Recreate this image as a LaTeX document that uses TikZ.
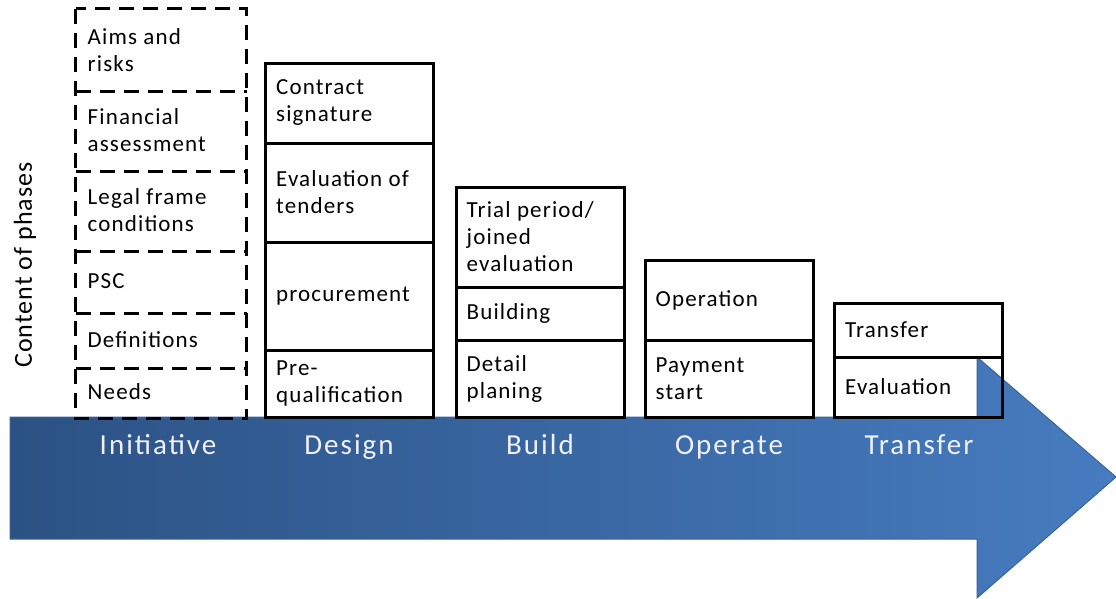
\documentclass[tikz,border=0pt]{standalone}
\usepackage{fontspec}
\setmainfont{Carlito}
\newfontfamily\cellfont[LetterSpace=5]{Carlito}
\newfontfamily\phasefont[LetterSpace=7]{Carlito}
\newfontfamily\sidefont[LetterSpace=4]{Carlito}
\begin{document}
\begin{tikzpicture}[x=1pt,y=-1pt,
  box/.style={rectangle, line width=3pt, minimum width=168pt, inner sep=0pt, anchor=center},
  cell/.style={box, draw=black},
  dcell/.style={box},
  dline/.style={line width=3.5pt, dash pattern=on 15pt off 9pt},
  lbl/.style={anchor=west, align=left, inner sep=0pt, font=\cellfont\fontsize{23}{27}\selectfont},
  phase/.style={text=white!94!blue, font=\phasefont\fontsize{29}{30}\selectfont, anchor=base},
]
\useasboundingbox (0,0) rectangle (1116,598);
\definecolor{arrL}{RGB}{44,82,132}
\definecolor{arrR}{RGB}{70,124,192}
\definecolor{arrE}{RGB}{58,100,158}
% arrow
\shade[left color=arrL, right color=arrR, draw=arrE, line width=1pt]
  (10,417) -- (977,417) -- (977,357) -- (1116,477) -- (977,598) -- (977,539) -- (10,539) -- cycle;
% initiative column (dashed)
\node[dcell, minimum height=80pt] (aims) at (161,50) {};
\node[dcell, minimum height=80pt] (fin) at (161,130) {};
\node[dcell, minimum height=80pt] (legal) at (161,210) {};
\node[dcell, minimum height=62pt] (psc) at (161,281) {};
\node[dcell, minimum height=55pt] (defs) at (161,339.5) {};
\node[dcell, minimum height=50pt] (needs) at (161,392) {};
\draw[dline] (aims.north west) rectangle (needs.south east);
\draw[dline] (aims.south west) -- (aims.south east);
\draw[dline] (fin.south west) -- (fin.south east);
\draw[dline] (legal.south west) -- (legal.south east);
\draw[dline] (psc.south west) -- (psc.south east);
\draw[dline] (defs.south west) -- (defs.south east);
\node[lbl] (aimsT) at ([xshift=12pt]aims.west) {Aims and\\risks};
\node[lbl] (finT) at ([xshift=12pt]fin.west) {Financial\\assessment};
\node[lbl] (legalT) at ([xshift=12pt]legal.west) {Legal frame\\conditions};
\node[lbl] (pscT) at ([xshift=12pt]psc.west) {PSC};
\node[lbl] (defsT) at ([xshift=12pt]defs.west) {Definitions};
\node[lbl] (needsT) at ([xshift=12pt]needs.west) {Needs};
% design column
\node[cell, minimum height=80pt] (contract) at (349.5,103) {};
\node[cell, minimum height=99pt] (evalt) at (349.5,192.5) {};
\node[cell, minimum height=108pt] (proc) at (349.5,296) {};
\node[cell, minimum height=67pt] (preq) at (349.5,383.5) {};
\node[lbl] (contractT) at ([xshift=12pt]contract.west) {Contract\\signature};
\node[lbl] (evaltT) at ([xshift=12pt]evalt.west) {Evaluation of\\tenders};
\node[lbl] (procT) at ([xshift=12pt]proc.west) {procurement};
\node[lbl] (preqT) at ([xshift=12pt]preq.west) {Pre-\\qualification};
% build column
\node[cell, minimum height=100pt] (trial) at (540,237) {};
\node[cell, minimum height=53pt] (building) at (540,313.5) {};
\node[cell, minimum height=77pt] (detail) at (540,378.5) {};
\node[lbl] (trialT) at ([xshift=12pt]trial.west) {Trial period/\\joined\\evaluation};
\node[lbl] (buildingT) at ([xshift=12pt]building.west) {Building};
\node[lbl] (detailT) at ([xshift=12pt]detail.west) {Detail\\planing};
% operate column
\node[cell, minimum height=80pt] (oper) at (729,300) {};
\node[cell, minimum height=77pt] (pay) at (729,378.5) {};
\node[lbl] (operT) at ([xshift=12pt]oper.west) {Operation};
\node[lbl] (payT) at ([xshift=12pt]pay.west) {Payment\\start};
% transfer column
\node[cell, minimum height=54pt] (transf) at (918.5,330) {};
\node[cell, minimum height=60pt] (evalu) at (918.5,387) {};
\node[lbl] (transfT) at ([xshift=12pt]transf.west) {Transfer};
\node[lbl] (evaluT) at ([xshift=12pt]evalu.west) {Evaluation};
% phase labels
\node[phase] (pI) at (158,454) {Initiative};
\node[phase] (pD) at (349,454) {Design};
\node[phase] (pB) at (540,454) {Build};
\node[phase] (pO) at (729,454) {Operate};
\node[phase] (pT) at (919,454) {Transfer};
% side label
\node[rotate=90, font=\sidefont\fontsize{26}{28}\selectfont, anchor=center] (side) at (25,265) {Content of phases};
\end{tikzpicture}
\end{document}
